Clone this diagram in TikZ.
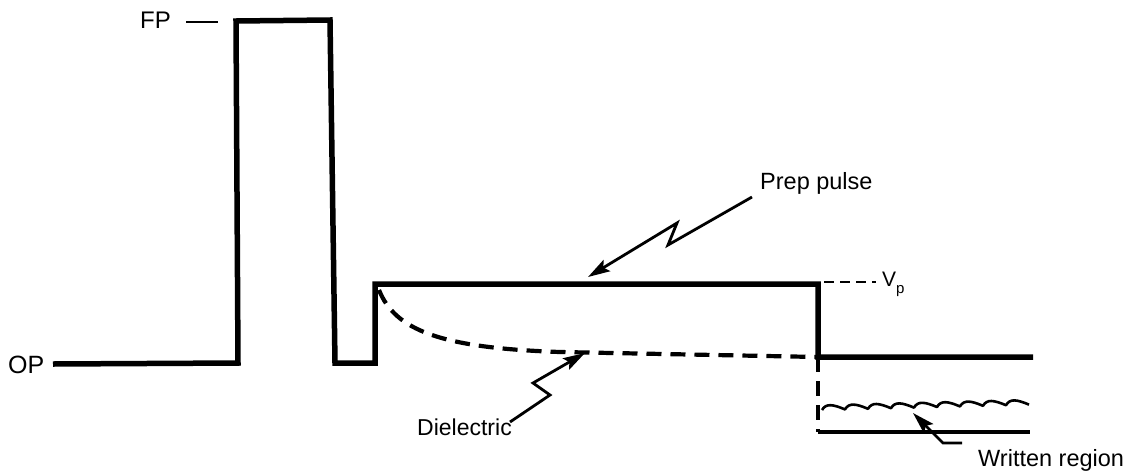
\documentclass[tikz,border=0pt]{standalone}
\usepackage{fontspec}
\setmainfont{Liberation Sans}
\usetikzlibrary{arrows.meta}
\tikzset{
  wave/.style={line width=5.5pt, line join=miter},
  dashline/.style={line width=4.2pt, dash pattern=on 15pt off 9pt},
  thindash/.style={line width=2pt, dash pattern=on 10pt off 6pt},
  leader/.style={line width=2.8pt, line join=miter, -{Stealth[length=22pt,width=13pt,inset=4pt]}},
  wavy/.style={line width=2.6pt, line join=round},
  lbl/.style={inner sep=0pt, anchor=base west},
}
\begin{document}
\begin{tikzpicture}[x=1pt,y=-1pt]
\useasboundingbox (0,0) rectangle (1146,472);
% labels
\node[lbl, font=\fontsize{25}{29}\selectfont] (op) at (8,373) {OP};
\node[lbl, font=\fontsize{24}{28}\selectfont] (fp) at (140,28) {FP};
\node[lbl, font=\fontsize{23.5}{28}\selectfont] (prep) at (760,189) {Prep pulse};
\node[lbl, font=\fontsize{21}{25}\selectfont] (vp) at (882,286) {V\raisebox{-7pt}{\fontsize{15}{17}\selectfont p}};
\node[lbl, font=\fontsize{23}{27}\selectfont] (diel) at (417,435) {Dielectric};
\node[lbl, font=\fontsize{23.5}{28}\selectfont] (writ) at (978,466) {Written region};
% key points
\coordinate (a0) at (53,364);
\coordinate (a1) at (238,363);
\coordinate (a2) at (236,21);
\coordinate (a3) at (330,20);
\coordinate (a4) at (335,363);
\coordinate (a5) at (375,363);
\coordinate (a6) at (375,284);
\coordinate (a7) at (818,284);
\coordinate (a8) at (818,357);
\coordinate (a9) at (1033,357);
\coordinate (b1) at (818,432);
\coordinate (b2) at (1030,432);
\coordinate (w0) at (822,410);
\coordinate (fpd0) at (186,22);
\coordinate (fpd1) at (218,22);
\coordinate (vpd0) at (824,282);
\coordinate (vpd1) at (876,282);
\coordinate (c0) at (379,290);
\coordinate (c1) at (560,352);
% waveform
\draw[wave] (a0) -- (a1) -- (a2) -- (a3) -- (a4) -- (a5) -- (a6) -- (a7) -- (a8) -- (a9);
\draw[line width=2.4pt] (fpd0) -- (fpd1);
\draw[thindash] (vpd0) -- (vpd1);
% dielectric curve
\draw[dashline] (c0) .. controls (395,330) and (440,348) .. (c1) -- (a8);
% written region
\draw[dashline] (a8) -- (b1);
\draw[line width=4.5pt] (b1) -- (b2);
\draw[wavy] (w0) foreach \i in {1,...,9} { .. controls +(4,-7) and +(-12,-5) .. ++(23,-0.6) };
% leaders
\coordinate (pt) at (588,277);
\coordinate (ps) at (752,197);
\draw[leader] (ps) -- (668,245) -- (677,223) -- (pt);
\coordinate (dt) at (585,353);
\coordinate (ds) at (510,422);
\draw[leader] (ds) -- (550,395) -- (533,383) -- (dt);
\coordinate (wt) at (913,413);
\coordinate (ws) at (962,443);
\draw[leader] (ws) -- (943,443) -- (wt);
\end{tikzpicture}
\end{document}
